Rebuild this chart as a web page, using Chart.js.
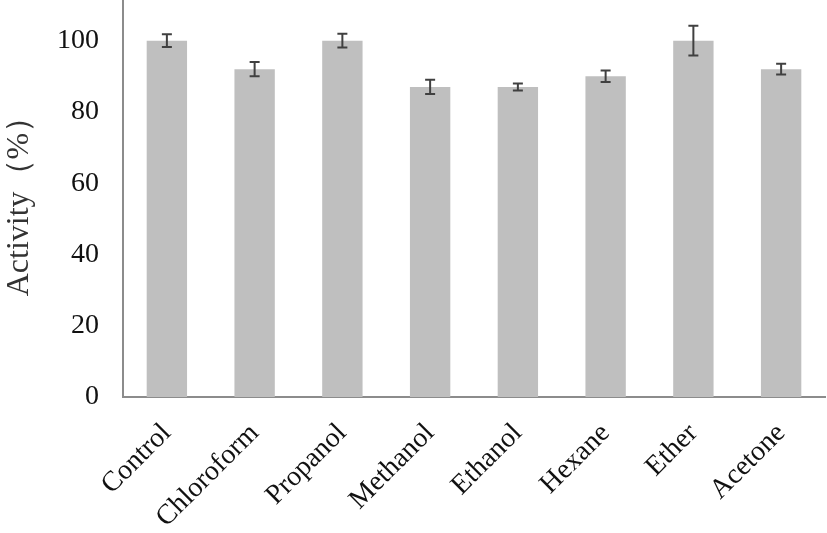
<!DOCTYPE html>
<html>
<head>
<meta charset="utf-8">
<script src="https://cdn.jsdelivr.net/npm/chart.js@4.4.1/dist/chart.umd.min.js"></script>
<style>
  html, body { margin: 0; padding: 0; background: #fff; }
  #wrap { width: 827px; height: 533px; }
</style>
</head>
<body>
<div id="wrap"><canvas id="activityChart"></canvas></div>
<script>
const solvents = ['Control', 'Chloroform', 'Propanol', 'Methanol', 'Ethanol', 'Hexane', 'Ether', 'Acetone'];
const activity = [100, 92, 100, 87, 87, 90, 100, 92];
const errors = [1.8, 2.0, 1.9, 2.0, 1.0, 1.6, 4.2, 1.5];
const yTicks = [0, 20, 40, 60, 80, 100];

// draws the error bars using the chart's own scales
const errorBars = {
  id: 'errorBars',
  afterDatasetsDraw(chart) {
    const ctx = chart.ctx;
    const x = chart.scales.x;
    const y = chart.scales.y;
    ctx.save();
    ctx.strokeStyle = '#404040';
    ctx.lineWidth = 2;
    activity.forEach((v, i) => {
      const px = x.getPixelForValue(i);
      const top = y.getPixelForValue(v + errors[i]);
      const bot = y.getPixelForValue(v - errors[i]);
      ctx.beginPath();
      ctx.moveTo(px, top); ctx.lineTo(px, bot);
      ctx.moveTo(px - 5, top); ctx.lineTo(px + 5, top);
      ctx.moveTo(px - 5, bot); ctx.lineTo(px + 5, bot);
      ctx.stroke();
    });
    ctx.restore();
  }
};

const ctx = document.getElementById('activityChart').getContext('2d');
const chart = new Chart(ctx, {
  type: 'bar',
  data: {
    labels: solvents,
    datasets: [{
      data: activity,
      backgroundColor: '#bfbfbf',
      borderWidth: 0,
      categoryPercentage: 1,
      barPercentage: 0.46
    }]
  },
  options: {
    responsive: true,
    maintainAspectRatio: false,
    animation: false,
    layout: { padding: { top: 0, right: 2, left: 0, bottom: 0 } },
    plugins: { legend: { display: false }, tooltip: { enabled: false } },
    scales: {
      x: {
        grid: { display: false, drawTicks: false },
        border: { color: '#8c8c8c', width: 2 },
        ticks: {
          color: '#111',
          font: { family: 'Liberation Serif', size: 28 },
          minRotation: 45,
          maxRotation: 45,
          padding: 20
        },
        afterFit: s => { s.height = 136; }
      },
      y: {
        min: 0,
        max: 111.4,
        grid: { display: false, drawTicks: false },
        border: { color: '#8c8c8c', width: 2 },
        afterBuildTicks: s => { s.ticks = yTicks.map(v => ({ value: v })); },
        ticks: {
          color: '#111',
          font: { family: 'Liberation Serif', size: 28 },
          padding: 24
        },
        title: {
          display: true,
          text: 'Activity（%）',
          color: '#333',
          font: { family: 'Liberation Serif', size: 32 },
          padding: { top: 0, bottom: 4 }
        },
        afterFit: s => { s.width = 123; s.paddingTop = 0; s.paddingBottom = 0; }
      }
    }
  },
  plugins: [errorBars]
});
</script>
</body>
</html>
